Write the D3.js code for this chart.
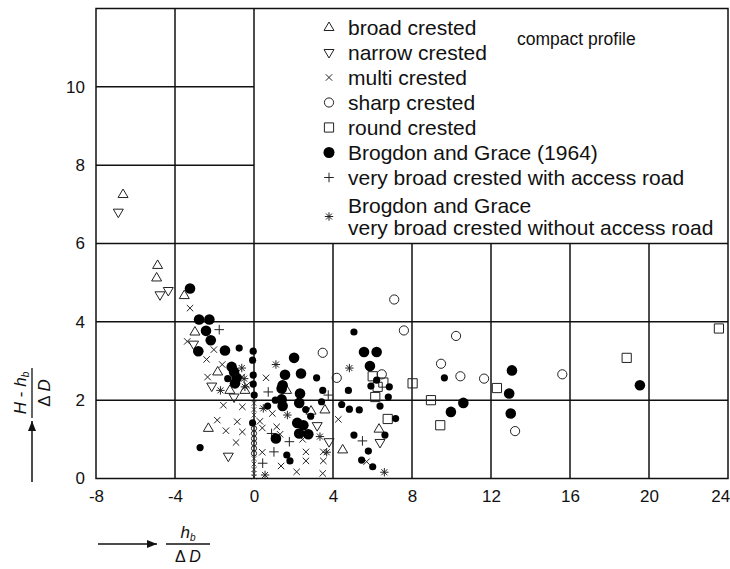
<!DOCTYPE html>
<html><head><meta charset="utf-8">
<script src="https://cdn.jsdelivr.net/npm/d3@7"></script>
<style>
html,body{margin:0;padding:0;background:#fff;}
svg{display:block;font-family:"Liberation Sans",Arial,sans-serif;}
</style></head>
<body>
<svg id="chart" width="730" height="569"></svg>
<script>
// ---- data (x = h_b/ΔD, y = (H-h_b)/ΔD) ----
const xTicks = [-8, -4, 0, 4, 8, 12, 16, 20, 24];
const yTicks = [0, 2, 4, 6, 8, 10];

const broadCrested = [[-6.63,7.25],[-4.88,5.44],[-4.93,5.12],[-3.53,4.67],[-2.99,3.74],[-1.84,2.72],[-1.22,2.25],[-0.46,2.25],[-2.31,1.28],[1.65,2.25],[3.59,1.75],[4.49,0.73],[6.33,1.26],[2.89,1.72]];
const narrowCrested = [[-6.87,6.80],[-4.76,4.69],[-4.34,4.80],[-3.06,3.43],[-2.14,2.36],[-1.01,2.08],[-1.30,0.57],[3.80,0.94],[6.38,0.92],[3.20,1.35]];
const multiCrested = [[-3.24,4.35],[-3.38,3.50],[-2.03,3.29],[-2.40,3.04],[-1.61,2.91],[-2.35,2.59],[-0.62,2.59],[0.61,2.57],[-0.37,2.38],[-1.55,1.87],[-0.59,1.83],[-1.86,1.49],[-0.85,1.45],[-1.42,1.22],[-0.59,1.19],[-0.91,0.92],[0.30,1.46],[0.42,1.29],[0.93,1.66],[1.15,1.32],[0.42,0.67],[1.37,0.32],[2.16,0.17],[2.46,1.00],[2.63,0.68],[2.63,0.45],[3.51,0.68],[3.51,0.45],[3.48,0.13],[4.27,1.51],[5.70,0.43],[1.32,1.13],
  [0,1.92],[0,1.76],[0,1.62],[0,0.51],[0,0.37],[0,0.23],[0,0.13],[0,0.04]];
const sharpCrested = [[7.10,4.57],[7.59,3.78],[3.48,3.21],[4.19,2.57],[6.47,2.66],[10.23,3.64],[9.47,2.93],[10.45,2.61],[11.65,2.55],[15.61,2.66],[13.22,1.21],
  [0,1.28],[0,1.15],[0,1.02],[0,0.90],[0,0.77],[0,0.64]];
const roundCrested = [[6.01,2.61],[6.26,2.34],[6.55,2.45],[6.14,2.08],[6.77,1.52],[8.03,2.43],[8.96,2.00],[9.43,1.36],[12.30,2.31],[18.87,3.08],[23.54,3.83]];
const brogdonLarge = [[-3.24,4.85],[-2.78,4.06],[-2.26,4.06],[-2.43,3.77],[-2.19,3.53],[-2.82,3.25],[-1.47,3.27],[-1.13,2.85],[-1.01,2.72],[-0.88,2.57],[-0.96,2.43],[2.03,3.08],[1.57,2.65],[2.38,2.68],[1.45,2.38],[1.40,2.30],[2.33,2.17],[1.40,2.02],[2.29,1.93],[1.45,1.85],[2.19,1.42],[2.50,1.36],[2.29,1.15],[2.75,1.13],[1.11,1.02],[5.57,3.23],[6.21,3.23],[5.87,2.87],[9.97,1.70],[10.60,1.93],[13.06,2.76],[12.92,2.17],[13.00,1.66],[19.54,2.38]];
const brogdonSmall = [[-0.75,3.33],[-0.04,3.25],[-0.07,3.02],[-0.04,2.64],[-0.04,2.41],[0.01,2.13],[-1.33,2.55],[-0.07,1.42],[-2.73,0.79],[1.08,2.00],[0.69,1.85],[3.17,2.57],[3.48,2.25],[3.42,1.96],[2.62,1.76],[2.87,1.59],[1.66,0.60],[1.82,0.45],[4.78,2.25],[4.44,1.89],[4.83,1.77],[5.33,1.75],[5.06,3.74],[6.21,2.51],[5.92,2.36],[6.85,2.34],[6.80,2.08],[6.38,1.85],[7.17,1.53],[6.63,1.11],[5.06,1.11],[5.79,0.70],[5.45,0.47],[6.01,0.30],[9.64,2.57]];
const accessRoad = [[-1.76,3.80],[0.72,2.21],[0.89,1.15],[1.79,0.94],[1.01,0.68],[0.44,0.39],[3.76,2.13],[5.49,0.96]];
const withoutRoad = [[-0.62,2.82],[-0.50,2.55],[-1.70,2.25],[-0.46,2.34],[1.11,2.91],[1.69,1.62],[0.47,1.79],[0.56,0.09],[3.34,1.07],[3.68,0.67],[4.83,2.82],[6.60,0.16]];

const legendLabels = ["broad crested","narrow crested","multi crested","sharp crested","round crested","Brogdon and Grace (1964)","very broad crested with access road"];
const legendLast = ["Brogdon and Grace","very broad crested without access road"];
const noteText = "compact profile";

// ---- layout ----
const svg = d3.select("#chart");
const L = 96, R = 728, T = 8.5, B = 478.5;
const x = d3.scaleLinear().domain([-8, 24]).range([L, R]);
const y = d3.scaleLinear().domain([0, 12]).range([B, T]);
const ink = "#111";

// grid
const g = svg.append("g").attr("stroke", ink).attr("stroke-width", 1.5).attr("fill","none");
[2,4,6].forEach(v => g.append("line").attr("x1",x(-8)).attr("x2",x(24)).attr("y1",y(v)).attr("y2",y(v)));
[8,10].forEach(v => g.append("line").attr("x1",x(-8)).attr("x2",x(0)).attr("y1",y(v)).attr("y2",y(v)));
[-4,0].forEach(v => g.append("line").attr("x1",x(v)).attr("x2",x(v)).attr("y1",y(0)).attr("y2",y(12)));
[4,8,12,16,20].forEach(v => g.append("line").attr("x1",x(v)).attr("x2",x(v)).attr("y1",y(0)).attr("y2",y(6)));
g.append("rect").attr("x",x(-8)).attr("y",y(12)).attr("width",x(24)-x(-8)).attr("height",y(0)-y(12));

// axes labels via d3 axes
const fontTick = 17;
const xa = svg.append("g").attr("transform",`translate(0,${B})`)
  .call(d3.axisBottom(x).tickValues(xTicks).tickSize(0).tickPadding(11).tickFormat(d => String(d)));
xa.select(".domain").remove();
xa.selectAll("text").attr("font-size",fontTick).attr("fill",ink).style("font-family","Liberation Sans, Arial, sans-serif");
xa.selectAll("text").filter(d => d === 24).attr("text-anchor","end").attr("dx","0.1em");
const ya = svg.append("g").attr("transform",`translate(${L},0)`)
  .call(d3.axisLeft(y).tickValues(yTicks).tickSize(0).tickPadding(11).tickFormat(d => String(d)));
ya.select(".domain").remove();
ya.selectAll("text").attr("font-size",fontTick).attr("fill",ink).style("font-family","Liberation Sans, Arial, sans-serif");

// ---- marker shapes ----
const stroke = "#222";
const shapes = {
  up: "M0,-5.5L5,3L-5,3Z",
  down: "M0,5.5L5,-3L-5,-3Z",
  cross: "M-3.2,-3.2L3.2,3.2M-3.2,3.2L3.2,-3.2",
  plus: "M-4.8,0H4.8M0,-4.8V4.8",
  star: "M-4.2,0H4.2M0,-4.2V4.2M-3,-3L3,3M-3,3L3,-3",
  square: "M-4.6,-4.6H4.6V4.6H-4.6Z"
};
// markers sitting on the x = 0 line are drawn smaller, as in the source figure
const onAxis = p => p[0] === 0;
function drawPath(sel, data, d) {
  sel.selectAll(null).data(data).enter().append("path")
    .attr("d", d).attr("transform", p => `translate(${x(p[0])},${y(p[1])})` + (onAxis(p) ? " scale(0.75)" : ""))
    .attr("fill", "none").attr("stroke", stroke).attr("stroke-width", 1);
}
const m = svg.append("g");
drawPath(m, multiCrested, shapes.cross);
drawPath(m, broadCrested, shapes.up);
drawPath(m, narrowCrested, shapes.down);
m.selectAll(null).data(sharpCrested).enter().append("circle")
  .attr("cx", p => x(p[0])).attr("cy", p => y(p[1])).attr("r", p => onAxis(p) ? 2.6 : 4.6)
  .attr("fill","none").attr("stroke",stroke).attr("stroke-width",1);
drawPath(m, roundCrested, shapes.square);
drawPath(m, accessRoad, shapes.plus);
drawPath(m, withoutRoad, shapes.star);
m.selectAll(null).data(brogdonLarge).enter().append("circle")
  .attr("cx", p => x(p[0])).attr("cy", p => y(p[1])).attr("r", 5.3).attr("fill","#000");
m.selectAll(null).data(brogdonSmall).enter().append("circle")
  .attr("cx", p => x(p[0])).attr("cy", p => y(p[1])).attr("r", 3.6).attr("fill","#000");

// ---- legend ----
const lg = svg.append("g");
const lx = 329, tx = 348, ly0 = 27.5, dy = 25;
const legShapes = ["up","down","cross","circle","square","dot","plus"];
legendLabels.forEach((t, i) => {
  const cy = ly0 + i * dy;
  const s = legShapes[i];
  if (s === "circle") lg.append("circle").attr("cx",lx).attr("cy",cy).attr("r",4.6).attr("fill","none").attr("stroke",stroke);
  else if (s === "dot") lg.append("circle").attr("cx",lx).attr("cy",cy).attr("r",5.5).attr("fill","#000");
  else lg.append("path").attr("d",shapes[s]).attr("transform",`translate(${lx},${cy})`).attr("fill","none").attr("stroke",stroke);
  lg.append("text").attr("x",tx).attr("y",cy+7).attr("font-size",21).attr("fill",ink).text(t);
});
const cyL = 216.5;
lg.append("path").attr("d",shapes.star).attr("transform",`translate(${lx},${cyL})`).attr("fill","none").attr("stroke",stroke);
legendLast.forEach((t,i) => lg.append("text").attr("x",tx).attr("y",cyL - 4 + i*22).attr("font-size",21).attr("fill",ink).text(t));
svg.append("text").attr("x",517).attr("y",45).attr("font-size",17.5).attr("fill",ink).text(noteText);

// ---- axis titles ----
svg.append("defs").append("marker").attr("id","ah").attr("viewBox","0 0 10 10").attr("refX",10).attr("refY",5)
  .attr("markerWidth",10).attr("markerHeight",10).attr("markerUnits","userSpaceOnUse").attr("orient","auto")
  .append("path").attr("d","M0,1L10,5L0,9Z").attr("fill",ink);
// x title
svg.append("line").attr("x1",98).attr("x2",157).attr("y1",544).attr("y2",544).attr("stroke",ink).attr("stroke-width",1.5).attr("marker-end","url(#ah)");
const xt = svg.append("g").attr("transform","translate(188,544)").attr("fill",ink);
xt.append("line").attr("x1",-22).attr("x2",22).attr("stroke",ink).attr("stroke-width",1.3);
const xn = xt.append("text").attr("text-anchor","middle").attr("y",-6).attr("font-size",17);
xn.append("tspan").attr("font-style","italic").text("h");
xn.append("tspan").attr("font-size",10).attr("font-style","italic").attr("dy",3).text("b");
const xd = xt.append("text").attr("text-anchor","middle").attr("y",18).attr("font-size",16);
xd.append("tspan").text("Δ ");
xd.append("tspan").attr("font-style","italic").text("D");
// y title
svg.append("line").attr("x1",32).attr("x2",32).attr("y1",482).attr("y2",421).attr("stroke",ink).attr("stroke-width",1.5).attr("marker-end","url(#ah)");
const yt = svg.append("g").attr("transform","translate(32,393) rotate(-90)").attr("fill",ink);
yt.append("line").attr("x1",-25).attr("x2",25).attr("stroke",ink).attr("stroke-width",1.3);
const yn = yt.append("text").attr("text-anchor","middle").attr("y",-6).attr("font-size",17);
yn.append("tspan").attr("font-style","italic").text("H");
yn.append("tspan").text(" - ");
yn.append("tspan").attr("font-style","italic").text("h");
yn.append("tspan").attr("font-size",10).attr("font-style","italic").attr("dy",3).text("b");
const yd = yt.append("text").attr("text-anchor","middle").attr("y",18).attr("font-size",17);
yd.append("tspan").text("Δ ");
yd.append("tspan").attr("font-style","italic").text("D");
</script>
</body></html>
